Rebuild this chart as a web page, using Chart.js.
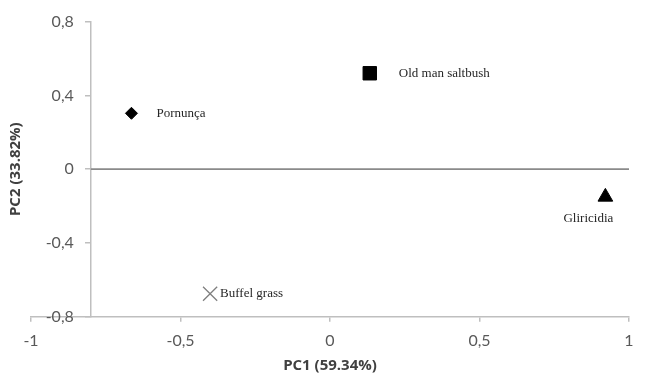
<!DOCTYPE html>
<html>
<head>
<meta charset="utf-8">
<script src="https://cdn.jsdelivr.net/npm/chart.js@4.4.1/dist/chart.umd.min.js"></script>
<style>
  html, body { margin: 0; padding: 0; background: #fff; }
  #wrap { width: 649px; height: 378px; }
</style>
</head>
<body>
<div id="wrap"><canvas id="pcaChart"></canvas></div>
<script>
const species = ['Pornunça', 'Old man saltbush', 'Gliricidia', 'Buffel grass'];
const pc1 = [-0.664, 0.133, 0.921, -0.401];
const pc2 = [0.303, 0.52, -0.15, -0.675];
const xTicks = [-1, -0.5, 0, 0.5, 1];
const yTicks = [-0.8, -0.4, 0, 0.4, 0.8];

// marker look per species, Excel style
const markers = [
  { style: 'rectRot', radius: 6, fill: '#000', border: '#000', bw: 1, dx: 25, dy: 0, align: 'left' },
  { style: 'rect', radius: 9.5, fill: '#000', border: '#000', bw: 1, dx: 29, dy: 0, align: 'left' },
  { style: 'triangle', radius: 8.5, fill: '#000', border: '#000', bw: 1, dx: -17, dy: 22, align: 'center' },
  { style: 'crossRot', radius: 10, fill: '#7f7f7f', border: '#7f7f7f', bw: 1.3, dx: 10, dy: 0, align: 'left' }
];

const comma = v => String(v).replace('.', ',');

const datasets = species.map((name, i) => ({
  label: name,
  data: [{ x: pc1[i], y: pc2[i] }],
  pointStyle: markers[i].style,
  pointRadius: markers[i].radius,
  pointBackgroundColor: markers[i].fill,
  pointBorderColor: markers[i].border,
  pointBorderWidth: markers[i].bw,
  pointHoverRadius: markers[i].radius
}));

// horizontal zero line starting at the y axis
datasets.unshift({
  label: 'zero',
  type: 'line',
  data: [{ x: -0.8, y: 0 }, { x: 1, y: 0 }],
  borderColor: '#8a8a8a',
  borderWidth: 1.8,
  pointRadius: 0,
  showLine: true
});

// y axis sits at x = -0.8, chart.js puts its labels right on the line, push them left
const yLabelShift = {
  id: 'yLabelShift',
  beforeDraw(chart) {
    const items = chart.scales.y.getLabelItems(chart.chartArea);
    items.forEach(it => {
      if (!it._shifted) {
        it.options.translation[0] -= 17;
        it._shifted = true;
      }
    });
  }
};

const pointLabels = {
  id: 'pointLabels',
  afterDatasetsDraw(chart) {
    const c = chart.ctx;
    c.save();
    c.font = '13px "Liberation Serif", serif';
    c.fillStyle = '#262626';
    c.textBaseline = 'middle';
    species.forEach((name, i) => {
      const meta = chart.getDatasetMeta(i + 1);
      const pt = meta.data[0];
      c.textAlign = markers[i].align;
      c.fillText(name, pt.x + markers[i].dx, pt.y + markers[i].dy);
    });
    c.restore();
  }
};

const tickFont = { family: 'Lato', size: 16 };
const titleFont = { family: 'Open Sans', size: 15, weight: 'bold' };

new Chart(document.getElementById('pcaChart'), {
  type: 'scatter',
  data: { datasets },
  options: {
    responsive: true,
    maintainAspectRatio: false,
    animation: false,
    layout: { padding: { left: 0, right: 20, top: 20, bottom: 3 } },
    plugins: { legend: { display: false }, tooltip: { enabled: false } },
    scales: {
      x: {
        min: -1, max: 1,
        afterBuildTicks: s => { s.ticks = xTicks.map(v => ({ value: v })); },
        ticks: { callback: v => comma(v), color: '#595959', font: tickFont, padding: 9, maxRotation: 0 },
        grid: { drawOnChartArea: false, drawTicks: true, tickLength: 5, color: '#bfbfbf', lineWidth: 1.5 },
        border: { color: '#bfbfbf', width: 1.5 },
        title: { display: true, text: 'PC1 (59.34%)', color: '#404040', font: titleFont, padding: { top: -2, bottom: 0 } }
      },
      y: {
        min: -0.8, max: 0.8,
        position: { x: -0.8 },
        afterBuildTicks: s => { s.ticks = yTicks.map(v => ({ value: v })); },
        ticks: { callback: v => comma(v), color: '#595959', font: tickFont, padding: 12 },
        grid: { drawOnChartArea: false, drawTicks: true, tickLength: 5, color: '#bfbfbf', lineWidth: 1.5 },
        border: { color: '#bfbfbf', width: 1.5 }
      },
      yTitle: {
        type: 'linear',
        position: 'left',
        ticks: { display: false },
        grid: { display: false, drawTicks: false },
        border: { display: false },
        title: { display: true, text: 'PC2 (33.82%)', color: '#404040', font: titleFont, padding: { top: 7, bottom: 6 } }
      }
    }
  },
  plugins: [yLabelShift, pointLabels]
});
</script>
</body>
</html>
